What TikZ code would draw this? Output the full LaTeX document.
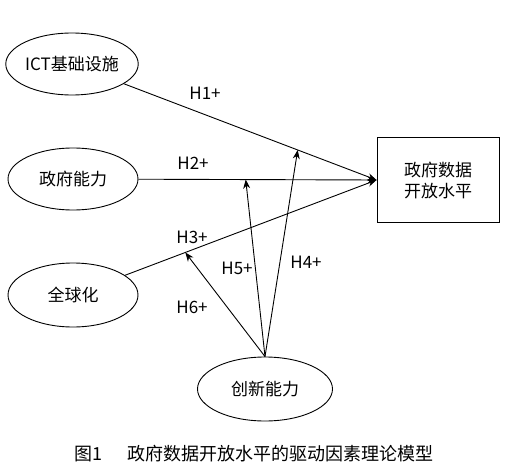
\documentclass[tikz,border=0pt]{standalone}
\usepackage{fontspec}
\setmainfont{Noto Sans CJK SC}
\usepackage{tikz}
\usetikzlibrary{arrows.meta,positioning,shapes.geometric,calc}

\begin{document}
\begin{tikzpicture}[
  x=1pt, y=-1pt,
  >=Stealth,
  every node/.style={font=\fontsize{17}{21}\selectfont},
  factor/.style={ellipse, draw, line width=0.9pt, minimum width=130pt, minimum height=62pt, inner sep=0pt},
  outbox/.style={rectangle, draw, line width=0.9pt, minimum width=122pt, minimum height=85pt, align=center},
  arr/.style={->, line width=0.9pt, >={Stealth[length=9pt,width=7pt]}},
  hlabel/.style={inner sep=0pt},
]
\useasboundingbox (0,0) rectangle (510,473);

% Factors
\node[factor] (ict) at (72,64) {ICT基础设施};
\node[factor] (gov) at (73,179) {政府能力};
\node[factor, minimum height=64pt] (glob) at (73,295) {全球化};
\node[factor, minimum width=135pt, minimum height=64pt] (inno) at (265,389) {创新能力};

% Outcome
\node[outbox] (odl) at (438,180) {政府数据\\开放水平};

% Direct effects
\draw[arr] (ict) -- (odl.west);
\draw[arr] (gov) -- (odl.west);
\draw[arr] (glob) -- (odl.west);

% Moderation targets on the paths
\coordinate (m4) at ($(ict.center)!0.741!(odl.west)$);
\coordinate (m5) at ($(gov.center)!0.569!(odl.west)$);
\coordinate (m6) at ($(glob.center)!0.37!(odl.west)$);

\draw[arr] (inno.north) -- (m4);
\draw[arr] (inno.north) -- (m5);
\draw[arr] (inno.north) -- (m6);

% Labels
\node[hlabel] (h1) at (205,93) {H1+};
\node[hlabel] (h2) at (193,163) {H2+};
\node[hlabel] (h3) at (192,237) {H3+};
\node[hlabel] (h4) at (306,262) {H4+};
\node[hlabel] (h5) at (237,268) {H5+};
\node[hlabel] (h6) at (192,307) {H6+};

% Caption
\node[font=\fontsize{18}{22}\selectfont] (cap) at (254,454) {图1\hspace{1.4em}政府数据开放水平的驱动因素理论模型};

\end{tikzpicture}
\end{document}
